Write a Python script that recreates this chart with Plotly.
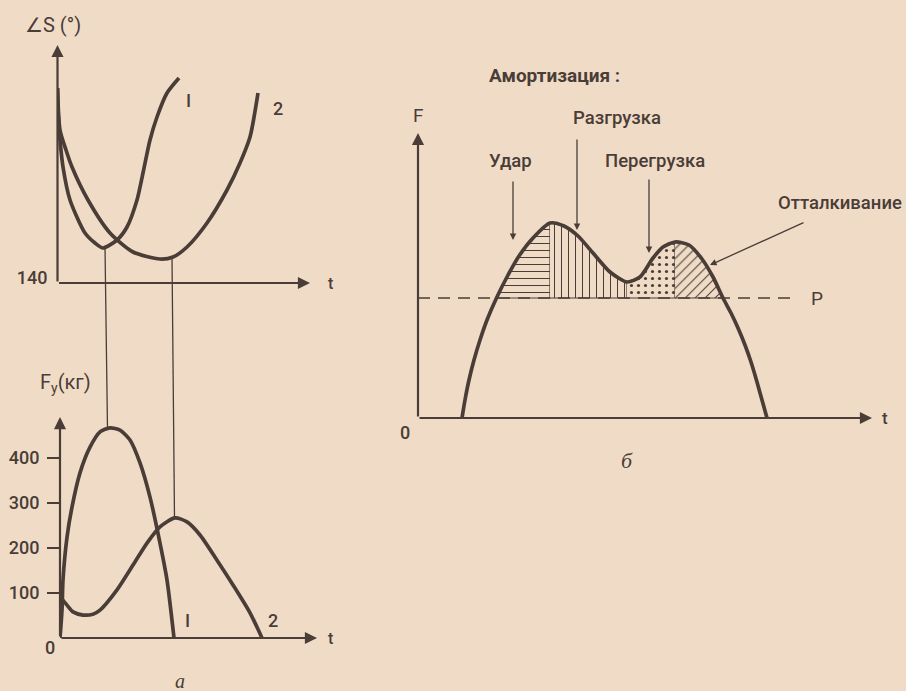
import numpy as np
import plotly.graph_objects as go

W, H = 906, 691
INK = "#4a3d38"
PAPER = "#f0dcc6"
SANS = "Roboto, 'Liberation Sans', sans-serif"
SERIF = "'Liberation Serif', 'DejaVu Serif', serif"

# ---------- panel а (top): joint angle ∠S, degrees, vs time ----------
t_ang1 = [0.0, 0.04, 0.1, 0.22, 0.5, 1.1, 1.5, 1.82, 2.38, 2.78, 3.18, 3.42, 3.7, 3.98, 4.38, 4.86]
ang1 = [179, 172.6, 168.6, 163.2, 156.6, 150, 148, 147, 148.6, 151.2, 156.6, 162, 168.6, 173.2, 178, 181]
t_ang2 = [0.0, 0.1, 0.34, 0.58, 1.22, 2.1, 3.02, 4.1, 4.62, 5.18, 5.98, 6.78, 7.3, 7.7, 8.02]
ang2 = [179, 170.6, 166.6, 163.2, 156.6, 150, 146.2, 144.8, 145.2, 147.2, 152, 158.6, 164, 169.2, 178]
ang_ticks = [140]

# ---------- panel а (bottom): vertical force F_y, kg, vs time ----------
t_fy1 = [0.0, 0.08, 0.12, 0.28, 0.48, 0.8, 1.2, 1.6, 2.0, 2.4, 2.8, 3.2, 3.6, 4.0, 4.28, 4.56]
fy1 = [0, 62, 129, 224, 291, 367, 424, 458, 467, 462, 440, 389, 313, 211, 129, 0]
t_fy2 = [0.0, 0.28, 0.52, 0.92, 1.32, 1.6, 2.28, 2.92, 3.48, 4.0, 4.6, 5.08, 5.6, 6.28, 6.92, 7.6, 8.08]
fy2 = [92, 73, 58, 51, 53, 62, 107, 162, 211, 247, 267, 258, 229, 173, 118, 56, 0]
fy_ticks = [100, 200, 300, 400]

# times linking the angle extremes to the force peaks
t_link = [1.9, 4.58]

# ---------- panel б: support force F vs time, body weight P ----------
t_F = [1.76, 1.88, 2.04, 2.24, 2.48, 2.76, 3.14, 3.56, 4.04, 4.6, 5.28, 5.84, 6.4, 7.0, 7.68,
       8.36, 8.88, 9.4, 9.8, 10.28, 10.84, 11.36, 11.8, 12.2, 12.52, 12.8, 13.08, 13.32,
       13.56, 13.76, 13.96]
F = [0, 0.72, 1.52, 2.32, 3.12, 3.92, 4.8, 5.64, 6.48, 7.2, 7.8, 7.68, 7.28, 6.6, 5.84,
     5.44, 5.64, 6.4, 6.84, 7.04, 6.92, 6.36, 5.64, 4.8, 4.2, 3.6, 2.92, 2.24,
     1.44, 0.72, 0]
P_level = 4.8
phase_bounds = [3.14, 5.28, 8.36, 10.28, 12.2]
phase_names = ["Удар", "Разгрузка", "Перегрузка", "Отталкивание"]
phase_patterns = ["-", "|", ".", "/"]

# ---------- axes geometry (domains in paper fractions) ----------
def px_x(px):
    return px / W


def px_y(py):
    return 1 - py / H


dom_x1 = [px_x(57.5), px_x(340)]
rng_x1 = [0, (340 - 57.5) / 25]
dom_y1 = [px_y(283), px_y(33)]
rng_y1 = [140, 190]

dom_x2 = [px_x(60), px_x(340)]
rng_x2 = [0, (340 - 60) / 25]
dom_y2 = [px_y(638), px_y(400)]
rng_y2 = [0, 238 / 0.45]

dom_x3 = [px_x(418), 1.0]
rng_x3 = [0, (906 - 418) / 25]
dom_y3 = [px_y(418), px_y(100)]
rng_y3 = [0, 318 / 25]

AX1 = (dom_x1, rng_x1, dom_y1, rng_y1)
AX2 = (dom_x2, rng_x2, dom_y2, rng_y2)
AX3 = (dom_x3, rng_x3, dom_y3, rng_y3)


def to_paper(v, dom, rng):
    return dom[0] + (v - rng[0]) / (rng[1] - rng[0]) * (dom[1] - dom[0])


fig = go.Figure()

curve = dict(color=INK, width=3.7, shape="spline", smoothing=0.7)

# angle curves
fig.add_trace(go.Scatter(x=t_ang1, y=ang1, mode="lines", line=curve, xaxis="x", yaxis="y"))
fig.add_trace(go.Scatter(x=t_ang2, y=ang2, mode="lines", line=curve, xaxis="x", yaxis="y"))

# force curves
fig.add_trace(go.Scatter(x=t_fy1, y=fy1, mode="lines", line=curve, xaxis="x2", yaxis="y2"))
fig.add_trace(go.Scatter(x=t_fy2, y=fy2, mode="lines", line=curve, xaxis="x2", yaxis="y2"))

# hatched phases between the force curve and the weight line
t_F_arr = np.array(t_F)
F_arr = np.array(F)
for a, b, pat in zip(phase_bounds[:-1], phase_bounds[1:], phase_patterns):
    sel = (t_F_arr >= a - 1e-9) & (t_F_arr <= b + 1e-9)
    xs = list(t_F_arr[sel]) + [b, a, a]
    ys = list(F_arr[sel]) + [P_level, P_level, P_level]
    fig.add_trace(go.Scatter(
        x=xs, y=ys, mode="lines", fill="toself",
        fillcolor=PAPER,
        fillpattern=dict(shape=pat, fgcolor=INK, bgcolor=PAPER, size=7,
                         solidity=0.15 if pat != "." else 0.16, fgopacity=1),
        line=dict(color=INK, width=1.2),
        xaxis="x3", yaxis="y3",
    ))

# weight level P (dashed)
fig.add_trace(go.Scatter(x=[0, 15.16], y=[P_level, P_level], mode="lines",
                         line=dict(color=INK, width=1.4, dash="12px,8px"),
                         xaxis="x3", yaxis="y3"))

# support force curve
fig.add_trace(go.Scatter(x=t_F, y=F, mode="lines", line=curve, xaxis="x3", yaxis="y3"))

# ---------- links between angle extremes and force peaks ----------
shapes = []
link_curves = [(t_ang1, ang1, t_fy1, fy1), (t_ang2, ang2, t_fy2, fy2)]
for tl, (ta, va, tf, vf) in zip(t_link, link_curves):
    top_val = float(np.interp(tl, ta, va))
    bot_val = float(np.interp(tl, tf, vf))
    shapes.append(dict(
        type="line", xref="paper", yref="paper",
        x0=to_paper(tl, dom_x1, rng_x1), y0=to_paper(top_val, dom_y1, rng_y1),
        x1=to_paper(tl, dom_x2, rng_x2), y1=to_paper(bot_val, dom_y2, rng_y2),
        line=dict(color=INK, width=1.3),
    ))

annotations = []


def arrow(x0, y0, x1, y1, xr, yr, width=1.2, size=1.0, head=2):
    annotations.append(dict(
        x=x1, y=y1, ax=x0, ay=y0, xref=xr, yref=yr, axref=xr, ayref=yr,
        text="", showarrow=True, arrowhead=head, arrowsize=size, arrowwidth=width,
        arrowcolor=INK, standoff=0, startstandoff=0,
    ))


def label(text, x, y, ax, size=17, family=SANS, weight=500, **kw):
    dx, rx, dy, ry = ax
    annotations.append(dict(
        x=to_paper(x, dx, rx), y=to_paper(y, dy, ry), xref="paper", yref="paper",
        text=text, showarrow=False, xanchor="center", yanchor="middle",
        font=dict(family=family, size=size, color=INK, weight=weight), **kw,
    ))


# axis arrows
arrow(0, 140, 0, 187.6, "x", "y", width=2.2, size=1.1)
arrow(0, 140, 10.1, 140, "x", "y", width=2.2, size=1.1)
arrow(0, 0, 0, 491, "x2", "y2", width=2.2, size=1.1)
arrow(0, 0, 10.28, 0, "x2", "y2", width=2.2, size=1.1)
arrow(0, 0, 0, 11.4, "x3", "y3", width=2.2, size=1.1)
arrow(0, 0, 18.16, 0, "x3", "y3", width=2.2, size=1.1)

# panel а texts
label("∠S (°)", -0.18, 191.6, AX1, size=20, weight=400)
label("t", 10.9, 140, AX1, size=16)
label("I", 5.22, 176.6, AX1, size=18)
label("2", 8.82, 175, AX1, size=18)
label("F<sub>y</sub>(кг)", 0.2, 567, AX2, size=20, weight=400)
label("0", -0.4, -20, AX2, size=18)
label("t", 10.8, 0, AX2, size=16)
label("I", 5.08, 40, AX2, size=18)
label("2", 8.52, 40, AX2, size=18)
label("<i>а</i>", 4.8, -95, AX2, size=20, family=SERIF, weight=400)

# panel б texts and pointers
label("<b>Амортизация :</b>", 5.44, 13.72, AX3, size=19)
label("F", 0.0, 12.12, AX3, size=19, weight=400)
label("0", -0.52, -0.56, AX3, size=18)
label("t", 18.68, 0, AX3, size=17)
label("P", 15.96, P_level, AX3, size=19, weight=400)
label("<i>б</i>", 8.36, -1.68, AX3, size=22, family=SERIF, weight=400)

pointer_label_pos = [(3.68, 10.28), (7.96, 12.0), (9.48, 10.28), (16.88, 8.6)]
pointer_tails = [(3.8, 9.52), (6.36, 11.2), (9.24, 9.6), (15.48, 7.84)]
pointer_tips = [(3.8, 7.12), (6.36, 7.52), (9.24, 6.6), (11.68, 6.12)]
for name, (lx, ly), (ax0, ay0), (tx, ty) in zip(phase_names, pointer_label_pos, pointer_tails, pointer_tips):
    label(name, lx, ly, AX3, size=18.5)
    arrow(ax0, ay0, tx, ty, "x3", "y3", width=1.3, size=1.0)

hidden = dict(visible=False, showgrid=False, zeroline=False, fixedrange=True)
tickfont = dict(family=SANS, size=18, color=INK, weight=500)

fig.update_layout(
    width=W, height=H, autosize=False,
    margin=dict(l=0, r=0, t=0, b=0, pad=0, autoexpand=False),
    paper_bgcolor=PAPER, plot_bgcolor="rgba(0,0,0,0)",
    showlegend=False,
    xaxis=dict(domain=dom_x1, range=rng_x1, anchor="y", **hidden),
    yaxis=dict(domain=dom_y1, range=rng_y1, anchor="x", showgrid=False, zeroline=False,
               showline=False, tickvals=ang_ticks, ticktext=[str(v) for v in ang_ticks],
               ticks="", ticklabelstandoff=9, ticklabelshift=-5, automargin=False,
               tickfont=tickfont),
    xaxis2=dict(domain=dom_x2, range=rng_x2, anchor="y2", **hidden),
    yaxis2=dict(domain=dom_y2, range=rng_y2, anchor="x2", showgrid=False, zeroline=False,
                showline=False, tickvals=fy_ticks, ticktext=[str(v) for v in fy_ticks],
                ticks="outside", ticklen=12, tickwidth=2, tickcolor=INK,
                ticklabelstandoff=4, automargin=False, tickfont=tickfont),
    xaxis3=dict(domain=dom_x3, range=rng_x3, anchor="y3", **hidden),
    yaxis3=dict(domain=dom_y3, range=rng_y3, anchor="x3", **hidden),
    shapes=shapes,
    annotations=annotations,
)

fig.write_html("out.html")
